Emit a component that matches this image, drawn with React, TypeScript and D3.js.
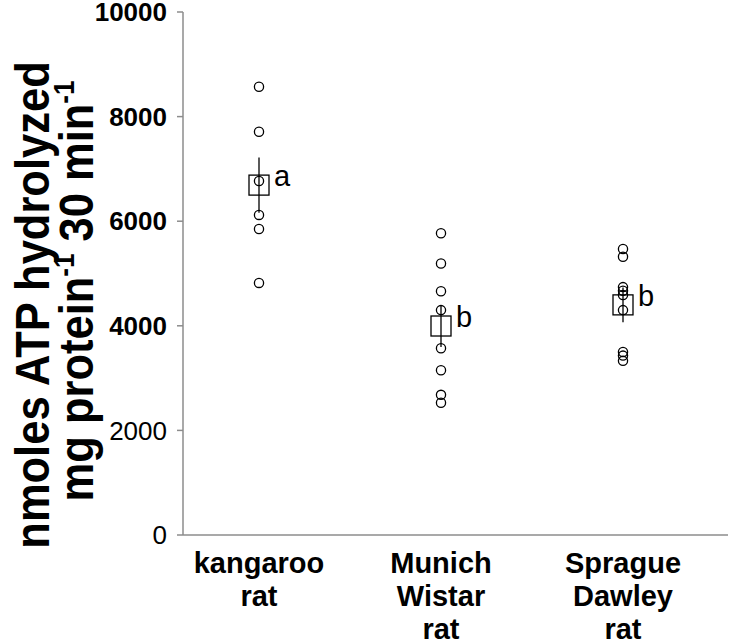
import React from "react";
import * as d3 from "d3";

const categories = ["kangaroo rat", "Munich Wistar rat", "Sprague Dawley rat"];
const categoryLines = [["kangaroo", "rat"], ["Munich", "Wistar", "rat"], ["Sprague", "Dawley", "rat"]];
const kangarooValues = [8570, 7710, 6770, 6120, 5850, 4820];
const munichValues = [5770, 5190, 4660, 4300, 3570, 3150, 2680, 2530];
const spragueValues = [5470, 5320, 4740, 4670, 4590, 4300, 3500, 3430, 3330];
const means = [6690, 3996, 4400];
const sems = [530, 400, 330];
const letters = ["a", "b", "b"];
const yTicks = [0, 2000, 4000, 6000, 8000, 10000];
const boldTicks = [4000, 6000, 8000, 10000];

const W = 730, H = 643;

export default function App() {
  const y = d3.scaleLinear().domain([0, 10000]).range([535, 12]);
  const x = d3.scaleBand<string>().domain(categories).range([168, 714]);
  const cx = (c: string) => (x(c) as number) + x.bandwidth() / 2;
  const series = [kangarooValues, munichValues, spragueValues];
  const axisX = 183;
  const font = "Liberation Sans, Arial, Helvetica, sans-serif";
  return (
    <svg width={W} height={H} style={{ position: "absolute", left: 0, top: 0, display: "block", background: "#fff" }} fontFamily={font}>
      {/* axes */}
      <line x1={axisX} x2={axisX} y1={y(10000)} y2={y(0)} stroke="#8c8c8c" strokeWidth={1.5} />
      <line x1={axisX} x2={728} y1={y(0)} y2={y(0)} stroke="#8c8c8c" strokeWidth={1.5} />
      {yTicks.map((t) => (
        <g key={t}>
          <line x1={axisX - 6} x2={axisX} y1={y(t)} y2={y(t)} stroke="#8c8c8c" strokeWidth={1.5} />
          <text x={axisX - 16} y={y(t)} dy="0.35em" textAnchor="end" fontSize={26}
            fontWeight={boldTicks.includes(t) ? "bold" : "normal"} fill="#000">{t}</text>
        </g>
      ))}
      {/* category labels */}
      {categories.map((c, i) => (
        <text key={c} x={cx(c)} y={573} textAnchor="middle" fontSize={29} fontWeight="bold">
          {categoryLines[i].map((l, j) => (
            <tspan key={j} x={cx(c)} dy={j === 0 ? 0 : 33}>{l}</tspan>
          ))}
        </text>
      ))}
      {/* y title */}
      <g transform="translate(49,305) rotate(-90) scale(1,1.1)">
        <text x={0} y={0} textAnchor="middle" fontSize={43.5} fontWeight="bold">nmoles ATP hydrolyzed</text>
        <text x={14} y={40} textAnchor="middle" fontSize={43.5} fontWeight="bold">
          mg protein<tspan fontSize={26} dy={-17}>-1</tspan><tspan dy={17}> 30 min</tspan><tspan fontSize={26} dy={-17}>-1</tspan>
        </text>
      </g>
      {/* data */}
      {categories.map((c, i) => {
        const px = cx(c);
        const m = means[i];
        return (
          <g key={c}>
            {series[i].map((v, j) => (
              <circle key={j} cx={px} cy={y(v)} r={4.6} fill="none" stroke="#000" strokeWidth={1.3} />
            ))}
            <rect x={px - 10} y={y(m) - 10} width={20} height={20} fill="none" stroke="#000" strokeWidth={1.3} />
            <line x1={px} x2={px} y1={y(m + sems[i])} y2={y(m - sems[i])} stroke="#000" strokeWidth={1.3} />
            <text x={px + 15} y={y(m) + 1} fontSize={29} fill="#000">{letters[i]}</text>
          </g>
        );
      })}
    </svg>
  );
}
